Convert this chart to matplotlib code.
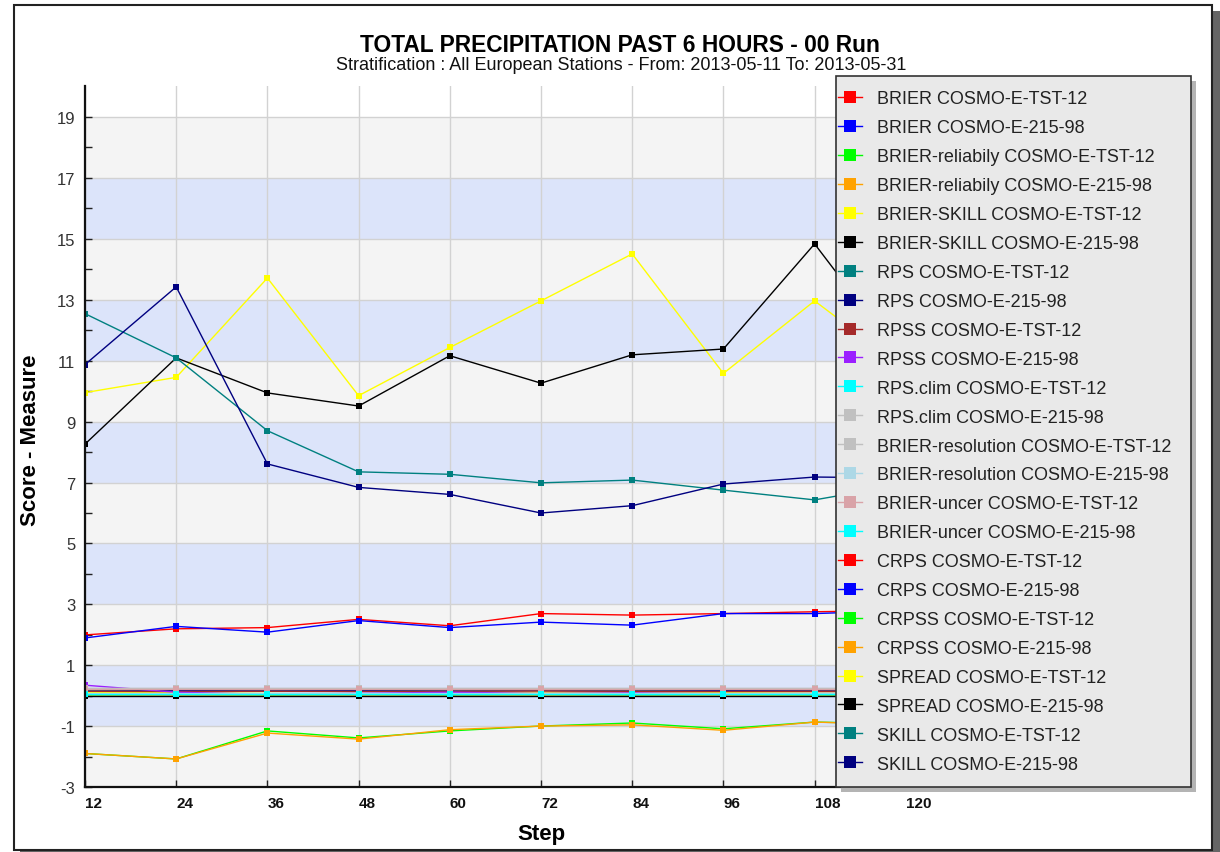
import matplotlib
matplotlib.use("Agg")
import matplotlib.pyplot as plt
from matplotlib.patches import Rectangle
from matplotlib.lines import Line2D

plt.rcParams['font.family'] = ['Liberation Sans', 'DejaVu Sans']
plt.rcParams['axes.unicode_minus'] = False

# Forecast steps (hours)
steps = [12, 24, 36, 48, 60, 72, 84, 96, 108, 120]

# Scores per step
brier_tst = [0.17, 0.16, 0.17, 0.16, 0.17, 0.18, 0.17, 0.16, 0.17, 0.17]
brier_215 = [0.16, 0.15, 0.16, 0.15, 0.16, 0.17, 0.16, 0.15, 0.16, 0.16]
brier_rel_tst = [0.02, 0.02, 0.02, 0.02, 0.02, 0.02, 0.02, 0.02, 0.02, 0.02]
brier_rel_215 = [0.03, 0.02, 0.03, 0.02, 0.03, 0.02, 0.03, 0.02, 0.03, 0.03]
brier_skill_tst = [0.12, 0.10, 0.08, 0.05, 0.10, 0.12, 0.10, 0.12, 0.13, 0.13]
brier_skill_215 = [0.0, 0.0, 0.0, 0.0, 0.0, 0.0, 0.0, 0.0, 0.0, 0.0]
rps_tst = [0.18, 0.17, 0.18, 0.17, 0.18, 0.19, 0.18, 0.17, 0.18, 0.18]
rps_215 = [0.20, 0.18, 0.19, 0.18, 0.20, 0.19, 0.20, 0.18, 0.19, 0.19]
rpss_tst = [0.15, 0.14, 0.15, 0.14, 0.15, 0.16, 0.15, 0.14, 0.15, 0.15]
rpss_215 = [0.35, 0.12, 0.05, 0.08, 0.12, 0.08, 0.10, 0.07, 0.08, 0.08]
rps_clim_tst = [0.05, 0.05, 0.05, 0.05, 0.05, 0.05, 0.05, 0.05, 0.05, 0.05]
rps_clim_215 = [0.25, 0.25, 0.25, 0.25, 0.25, 0.25, 0.25, 0.25, 0.25, 0.25]
brier_res_tst = [0.25, 0.25, 0.25, 0.25, 0.25, 0.25, 0.25, 0.25, 0.25, 0.25]
brier_res_215 = [0.08, 0.08, 0.08, 0.08, 0.08, 0.08, 0.08, 0.08, 0.08, 0.08]
brier_unc_tst = [0.24, 0.24, 0.24, 0.24, 0.24, 0.24, 0.24, 0.24, 0.24, 0.24]
brier_unc_215 = [0.05, 0.05, 0.05, 0.05, 0.05, 0.05, 0.05, 0.05, 0.05, 0.05]
crps_tst = [2.00, 2.20, 2.24, 2.51, 2.30, 2.70, 2.65, 2.70, 2.76, 2.80]
crps_215 = [1.90, 2.28, 2.09, 2.47, 2.24, 2.42, 2.32, 2.70, 2.70, 2.80]
crpss_tst = [-1.89, -2.07, -1.15, -1.38, -1.15, -0.99, -0.89, -1.08, -0.86, -0.92]
crpss_215 = [-1.89, -2.07, -1.22, -1.42, -1.11, -0.99, -0.95, -1.13, -0.86, -0.95]
spread_tst = [9.95, 10.45, 13.71, 9.85, 11.43, 12.96, 14.50, 10.58, 12.96, 10.70]
spread_215 = [8.26, 11.09, 9.94, 9.51, 11.16, 10.26, 11.19, 11.38, 14.83, 10.90]
skill_tst = [12.54, 11.09, 8.70, 7.35, 7.27, 6.99, 7.08, 6.75, 6.43, 6.95]
skill_215 = [10.87, 13.42, 7.61, 6.84, 6.61, 6.00, 6.24, 6.95, 7.18, 7.15]

labels = [
    "BRIER COSMO-E-TST-12", "BRIER COSMO-E-215-98",
    "BRIER-reliabily COSMO-E-TST-12", "BRIER-reliabily COSMO-E-215-98",
    "BRIER-SKILL COSMO-E-TST-12", "BRIER-SKILL COSMO-E-215-98",
    "RPS COSMO-E-TST-12", "RPS COSMO-E-215-98",
    "RPSS COSMO-E-TST-12", "RPSS COSMO-E-215-98",
    "RPS.clim COSMO-E-TST-12", "RPS.clim COSMO-E-215-98",
    "BRIER-resolution COSMO-E-TST-12", "BRIER-resolution COSMO-E-215-98",
    "BRIER-uncer COSMO-E-TST-12", "BRIER-uncer COSMO-E-215-98",
    "CRPS COSMO-E-TST-12", "CRPS COSMO-E-215-98",
    "CRPSS COSMO-E-TST-12", "CRPSS COSMO-E-215-98",
    "SPREAD COSMO-E-TST-12", "SPREAD COSMO-E-215-98",
    "SKILL COSMO-E-TST-12", "SKILL COSMO-E-215-98",
]
values = [
    brier_tst, brier_215, brier_rel_tst, brier_rel_215,
    brier_skill_tst, brier_skill_215, rps_tst, rps_215,
    rpss_tst, rpss_215, rps_clim_tst, rps_clim_215,
    brier_res_tst, brier_res_215, brier_unc_tst, brier_unc_215,
    crps_tst, crps_215, crpss_tst, crpss_215,
    spread_tst, spread_215, skill_tst, skill_215,
]
colors = [
    "#ff0000", "#0000ff", "#00ff00", "#ffa200",
    "#ffff00", "#000000", "#008080", "#000080",
    "#a52a2a", "#9b1fff", "#00ffff", "#c0c0c0",
    "#c0c0c0", "#add8e6", "#d9a3a8", "#00ffff",
    "#ff0000", "#0000ff", "#00ff00", "#ffa200",
    "#ffff00", "#000000", "#008080", "#000080",
]

W, H = 1220, 853


def fx(px):
    return px / W


def fy(py):
    return 1 - py / H


fig = plt.figure(figsize=(W / 100, H / 100), dpi=100)
fig.patch.set_facecolor("white")

ax_left, ax_right, ax_top, ax_bottom = 85, 997, 87.3, 788.3
ax = fig.add_axes([fx(ax_left), fy(ax_bottom), (ax_right - ax_left) / W,
                   (ax_bottom - ax_top) / H])
ax.set_xlim(12, 132)
ax.set_ylim(-3, 20)
ax.set_facecolor("white")

# alternating horizontal bands
for i, lo in enumerate(range(-3, 19, 2)):
    ax.axhspan(lo, lo + 2, color="#f4f4f4" if i % 2 == 0 else "#dce4fa",
               lw=0, zorder=0)

ax.set_xticks(steps)
ax.set_yticks(range(-3, 20, 2))
ax.set_yticks(range(-2, 20, 2), minor=True)
ax.set_axisbelow(True)
ax.grid(True, which="major", color="#d2d2d2", lw=1)

for vals, col in zip(values, colors):
    ax.plot(steps, vals, color=col, lw=1.0, marker="s", ms=5, mew=0,
            zorder=2)

for side in ("top", "right"):
    ax.spines[side].set_visible(False)
for side in ("left", "bottom"):
    ax.spines[side].set_linewidth(1.6)
    ax.spines[side].set_color("#111111")

ax.tick_params(axis="both", which="both", direction="in", length=5,
               width=1, color="#222222")
ax.tick_params(axis="y", labelsize=12, labelcolor="#333333", pad=7)
ax.tick_params(axis="x", labelsize=11, labelcolor="#111111", pad=6)
for lab in ax.get_xticklabels():
    lab.set_ha("left")
    lab.set_fontweight("bold")

# titles and axis labels
fig.text(fx(620), fy(45), "TOTAL PRECIPITATION PAST 6 HOURS - 00 Run",
         ha="center", va="center", fontsize=16.4, fontweight="bold")
fig.text(fx(621), fy(66),
         "Stratification : All European Stations - From: 2013-05-11 To: 2013-05-31",
         ha="center", va="center", fontsize=13, color="#111111")
fig.text(fx(31), fy(440), "Score - Measure", rotation=90, ha="center",
         va="center", fontsize=16, fontweight="bold")
fig.text(fx(541), fy(835), "Step", ha="center", va="center", fontsize=16,
         fontweight="bold")

# legend box with shadow
lg_l, lg_r, lg_t, lg_b = 836, 1191, 77, 788
fig.patches.append(Rectangle((fx(lg_l + 5), fy(lg_b + 5)), (lg_r - lg_l) / W,
                             (lg_b - lg_t) / H, transform=fig.transFigure,
                             facecolor="#b4b4b4", edgecolor="none", zorder=3.8))
fig.patches.append(Rectangle((fx(lg_l), fy(lg_b)), (lg_r - lg_l) / W,
                             (lg_b - lg_t) / H, transform=fig.transFigure,
                             facecolor="#e9e9e9", edgecolor="#333333", lw=1.2,
                             zorder=4))

handles = [Line2D([], [], color=c, lw=1.0, marker="s", ms=9, mew=0)
           for c in colors]
leg = fig.legend(handles, labels, loc="upper left",
                 bbox_to_anchor=(fx(838), fy(91.5)), frameon=False,
                 borderpad=0, borderaxespad=0, handlelength=1.35,
                 handletextpad=0.8, labelspacing=0.66, fontsize=13)
leg.set_zorder(5)
for t in leg.get_texts():
    t.set_color("#222222")

# outer chart border with drop shadow
fig.patches.append(Rectangle((fx(1212), fy(853)), 8 / W, (853 - 12) / H,
                             transform=fig.transFigure, facecolor="#666666",
                             edgecolor="none", zorder=1))
fig.patches.append(Rectangle((fx(20), fy(853)), (1220 - 20) / W, 2 / H,
                             transform=fig.transFigure, facecolor="#666666",
                             edgecolor="none", zorder=1))
fig.patches.append(Rectangle((fx(14), fy(851)), (1212 - 14) / W, (851 - 6) / H,
                             transform=fig.transFigure, fill=False,
                             edgecolor="#222222", lw=1.5, zorder=1))

fig.savefig("out.png", dpi=100)
